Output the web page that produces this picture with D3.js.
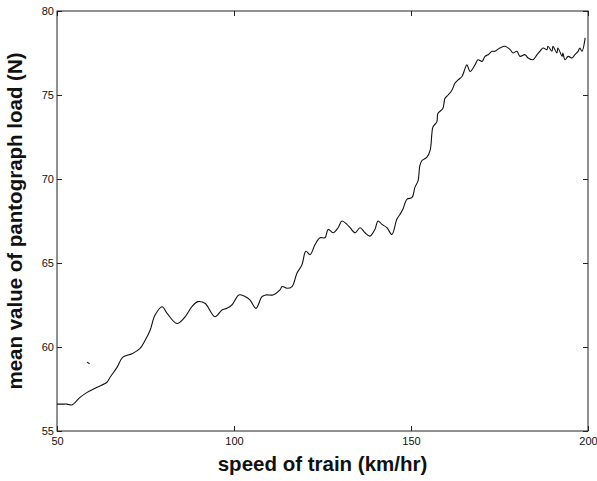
<!DOCTYPE html>
<html>
<head>
<meta charset="utf-8">
<script src="https://cdn.jsdelivr.net/npm/d3@7"></script>
<style>
  body { margin: 0; background: #fff; }
  .tick-label { font-family: "Liberation Sans", Arial, sans-serif; font-size: 11px; fill: #111; }
  .axis-title { font-family: "Liberation Sans", Arial, sans-serif; font-size: 20.5px; font-weight: bold; fill: #111; }
</style>
</head>
<body>
<div id="chart"></div>
<script>
// speed of train (km/hr)
var speed = [50.0, 51.7, 52.8, 54.2, 56.5, 58.5, 61.3, 64.1, 65.0, 67.0, 68.6, 71.2, 73.4, 74.9, 76.3, 77.7,
    79.7, 81.1, 83.9, 86.2, 88.1, 89.8, 91.8, 94.6, 96.6, 98.0, 99.4, 101.4, 103.1, 104.5, 106.2, 107.9,
    109.0, 111.0, 113.0, 113.6, 115.0, 116.4, 117.8, 119.2, 120.3, 121.5, 122.9, 124.3, 125.7, 126.6, 128.0,
    129.4, 130.5, 131.9, 132.8, 134.2, 135.6, 137.0, 138.4, 139.8, 140.7, 141.8, 143.2, 144.6, 146.0, 146.9,
    147.7, 148.9, 150.3, 151.1, 152.0, 152.5, 153.1, 154.5, 155.4, 155.9, 156.2, 157.3, 157.6, 159.0, 159.6,
    160.5, 161.6, 162.4, 163.3, 164.4, 165.3, 165.8, 166.7, 168.1, 168.9, 170.1, 170.9, 171.8, 172.9, 173.7,
    175.1, 176.6, 178.0, 178.8, 179.9, 180.8, 182.2, 183.1, 184.5, 185.6, 186.4, 187.3, 188.4, 188.7, 189.8,
    190.1, 191.2, 191.5, 192.7, 192.9, 193.5, 194.4, 195.5, 196.3, 197.2, 197.7, 198.3, 199.2];

// mean value of pantograph load (N)
var load = [56.6, 56.6, 56.6, 56.55, 57.0, 57.3, 57.6, 57.9, 58.2, 58.8, 59.4, 59.6, 59.9, 60.4, 61.0, 61.9,
    62.4, 62.0, 61.4, 61.8, 62.4, 62.7, 62.6, 61.8, 62.2, 62.3, 62.5, 63.1, 63.0, 62.8, 62.3, 63.0,
    63.1, 63.1, 63.4, 63.6, 63.5, 63.6, 64.4, 64.9, 65.7, 65.5, 66.1, 66.5, 66.5, 67.0, 66.8,
    67.1, 67.5, 67.3, 67.1, 66.8, 67.1, 66.8, 66.6, 67.0, 67.5, 67.3, 67.1, 66.7, 67.6, 67.9,
    68.2, 68.8, 68.9, 69.5, 69.9, 70.8, 71.1, 71.3, 71.7, 72.7, 73.1, 73.4, 73.9, 74.2, 74.8,
    75.0, 75.3, 75.7, 75.9, 76.1, 76.6, 76.8, 76.4, 76.8, 77.1, 77.0, 77.3, 77.4, 77.6, 77.6,
    77.8, 77.9, 77.7, 77.5, 77.6, 77.3, 77.4, 77.2, 77.1, 77.4, 77.6, 77.8, 77.7, 77.9, 77.6,
    77.9, 77.5, 77.8, 77.3, 77.5, 77.1, 77.3, 77.2, 77.4, 77.6, 77.8, 77.6, 78.4];

// small stray mark left of the curve
var straySpeed = [58.5, 59.2],
    strayLoad = [59.1, 59.0];

var xTicks = [50, 100, 150, 200],
    yTicks = [55, 60, 65, 70, 75, 80];

var width = 597,
    height = 481,
    margin = {top: 11, right: 9, bottom: 50, left: 57};

var svg = d3.select('div#chart').append('svg')
    .attr('width', width)
    .attr('height', height);

var xScale = d3.scaleLinear()
    .domain([50, 200])
    .range([margin.left, width - margin.right]);

var yScale = d3.scaleLinear()
    .domain([55, 80])
    .range([height - margin.bottom, margin.top]);

var x0 = xScale.range()[0], x1 = xScale.range()[1],
    y0 = yScale.range()[0], y1 = yScale.range()[1];

// frame
svg.append('rect')
    .attr('x', x0).attr('y', y1)
    .attr('width', x1 - x0).attr('height', y0 - y1)
    .attr('fill', 'none')
    .attr('stroke', '#222')
    .attr('stroke-width', 1);

// axes with inward ticks, matlab style
var xAxis = d3.axisBottom(xScale).tickValues(xTicks).tickSize(-5).tickPadding(8);
var yAxis = d3.axisLeft(yScale).tickValues(yTicks).tickSize(-5).tickPadding(3);

var gx = svg.append('g').attr('transform', 'translate(0,' + y0 + ')').call(xAxis);
var gy = svg.append('g').attr('transform', 'translate(' + x0 + ',0)').call(yAxis);
[gx, gy].forEach(function (g) {
    g.select('.domain').remove();
    g.selectAll('.tick line').attr('stroke', '#222');
    g.selectAll('.tick text').attr('class', 'tick-label').attr('font-family', null).attr('font-size', null);
});
gx.selectAll('.tick text').attr('dy', '0.5em');

// ticks on the top and right sides
svg.append('g').attr('transform', 'translate(0,' + y1 + ')')
    .call(d3.axisTop(xScale).tickValues(xTicks).tickSize(-5).tickFormat(''))
    .call(function (g) { g.select('.domain').remove(); g.selectAll('line').attr('stroke', '#222'); });
svg.append('g').attr('transform', 'translate(' + x1 + ',0)')
    .call(d3.axisRight(yScale).tickValues(yTicks).tickSize(-5).tickFormat(''))
    .call(function (g) { g.select('.domain').remove(); g.selectAll('line').attr('stroke', '#222'); });

var line = d3.line()
    .curve(d3.curveCatmullRom.alpha(0.5))
    .x(function (d) { return xScale(d[0]); })
    .y(function (d) { return yScale(d[1]); });

svg.append('path')
    .datum(d3.zip(speed, load))
    .attr('d', line)
    .attr('fill', 'none')
    .attr('stroke', '#111')
    .attr('stroke-width', 1.1);

svg.append('path')
    .datum(d3.zip(straySpeed, strayLoad))
    .attr('d', line)
    .attr('fill', 'none')
    .attr('stroke', '#111')
    .attr('stroke-width', 1.1);

// axis titles
svg.append('text').attr('class', 'axis-title')
    .attr('x', (x0 + x1) / 2).attr('y', 471)
    .attr('text-anchor', 'middle')
    .text('speed of train (km/hr)');

svg.append('text').attr('class', 'axis-title')
    .attr('transform', 'translate(22,' + ((y0 + y1) / 2) + ') rotate(-90)')
    .attr('text-anchor', 'middle')
    .text('mean value of pantograph load (N)');
</script>
</body>
</html>
